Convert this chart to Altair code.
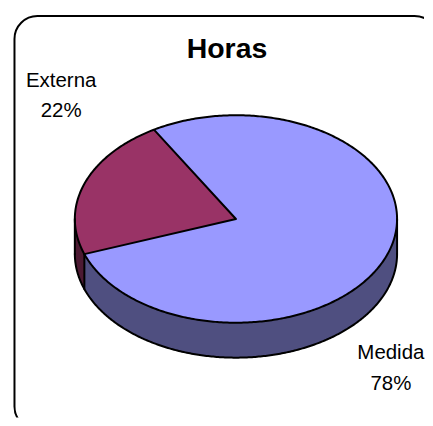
import numpy as np
import pandas as pd
import altair as alt

categories = ["Externa", "Medida"]
shares = [22, 78]
title_text = "Horas"
top_colors = ["#993366", "#9999FF"]
side_colors = ["#4D1A33", "#4F4F80"]

# pie geometry in page pixels
CX, CY, RX, RY, DEPTH = 236.5, 219.0, 161.5, 104.0, 35.0
START = 120.6  # degrees, where Externa begins (counter-clockwise from +x)
PW, PH = 417, 410
LW = 2

x_scale = alt.Scale(domain=[8, 8 + PW], nice=False, zero=False)
y_scale = alt.Scale(domain=[8 + PH, 8], nice=False, zero=False)
X = lambda f="x": alt.X(f"{f}:Q", scale=x_scale, axis=None)
Y = lambda f="y": alt.Y(f"{f}:Q", scale=y_scale, axis=None)

end_ext = START + 360 * shares[0] / sum(shares)


def rim(deg, drop=0.0):
    t = np.radians(deg)
    return CX + RX * np.cos(t), CY - RY * np.sin(t) + drop


def wall(a, b, n=120):
    d = np.linspace(a, b, n)
    x, y = rim(d)
    return pd.DataFrame({"x": x, "y": y, "y2": y + DEPTH})


wall_ext = wall(180, end_ext, 30)
wall_med = wall(end_ext, 360)

d_up = np.linspace(180, 0, 300)
xu, yu = rim(d_up)
top_med = pd.DataFrame({"x": xu, "y": yu, "y2": 2 * CY - yu})

xa, ya = rim(START)
xb, yb = rim(end_ext)
xs = np.unique(np.concatenate([rim(np.linspace(180, START, 80))[0],
                               rim(np.linspace(180, end_ext, 40))[0],
                               np.linspace(xa, CX, 40), np.linspace(xb, CX, 60)]))
xs = xs[(xs >= CX - RX) & (xs <= CX)]
ell = RY * np.sqrt(np.clip(1 - ((xs - CX) / RX) ** 2, 0, None))
upper = np.where(xs <= xa, CY - ell, ya + (xs - xa) * (CY - ya) / (CX - xa))
lower = np.where(xs <= xb, CY + ell, yb + (xs - xb) * (CY - yb) / (CX - xb))
top_ext = pd.DataFrame({"x": xs, "y": upper, "y2": lower})


def area(df, color):
    return alt.Chart(df).mark_area(color=color, opacity=1, strokeWidth=0).encode(
        x=X(), y=Y(), y2=alt.Y2("y2:Q"))


rows = []


def path(name, px, py):
    for i, (a, b) in enumerate(zip(px, py)):
        rows.append({"g": name, "i": i, "x": float(a), "y": float(b)})


d = np.linspace(0, 360, 500)
path("top", *rim(d))
d = np.linspace(180, 360, 300)
path("bottom", *rim(d, DEPTH))
path("left", *zip(rim(180), rim(180, DEPTH)))
path("right", *zip(rim(0), rim(0, DEPTH)))
path("wall", *zip(rim(end_ext), rim(end_ext, DEPTH)))
path("radii", [xa, CX, xb], [ya, CY, yb])
outline = alt.Chart(pd.DataFrame(rows)).mark_line(
    color="black", strokeWidth=LW, strokeJoin="round", strokeCap="round"
).encode(x=X(), y=Y(), detail="g:N", order="i:Q")

frame = alt.Chart(pd.DataFrame({"x": [14.5], "x2": [438.5], "y": [15.5], "y2": [430.0]})).mark_rect(
    fill="white", stroke="black", strokeWidth=2, cornerRadius=23, clip=True
).encode(x=X(), x2="x2:Q", y=Y(), y2="y2:Q")

labels = pd.DataFrame({
    "text": [title_text,
             categories[0], f"{shares[0]}%",
             categories[1], f"{shares[1]}%"],
    "x": [227.5, 61.3, 61.3, 391.8, 391.8],
    "y": [49, 81, 111, 353, 384],
    "weight": ["bold", "normal", "normal", "normal", "normal"],
})


def text(df, weight, size):
    return alt.Chart(df).mark_text(
        font="Liberation Sans", fontWeight=weight, fontSize=size, color="black",
        align="center", baseline="middle"
    ).encode(x=X(), y=Y(), text="text:N")


chart = alt.layer(
    frame,
    area(wall_ext, side_colors[0]),
    area(wall_med, side_colors[1]),
    area(top_med, top_colors[1]),
    area(top_ext, top_colors[0]),
    outline,
    text(labels[labels.weight == "bold"], "bold", 28.5),
    text(labels[labels.weight != "bold"], "normal", 20.5),
).properties(width=PW, height=PH, padding=0, background="white"
).configure_view(stroke=None)

chart.save("out.html", embed_options={"renderer": "svg", "actions": False})
